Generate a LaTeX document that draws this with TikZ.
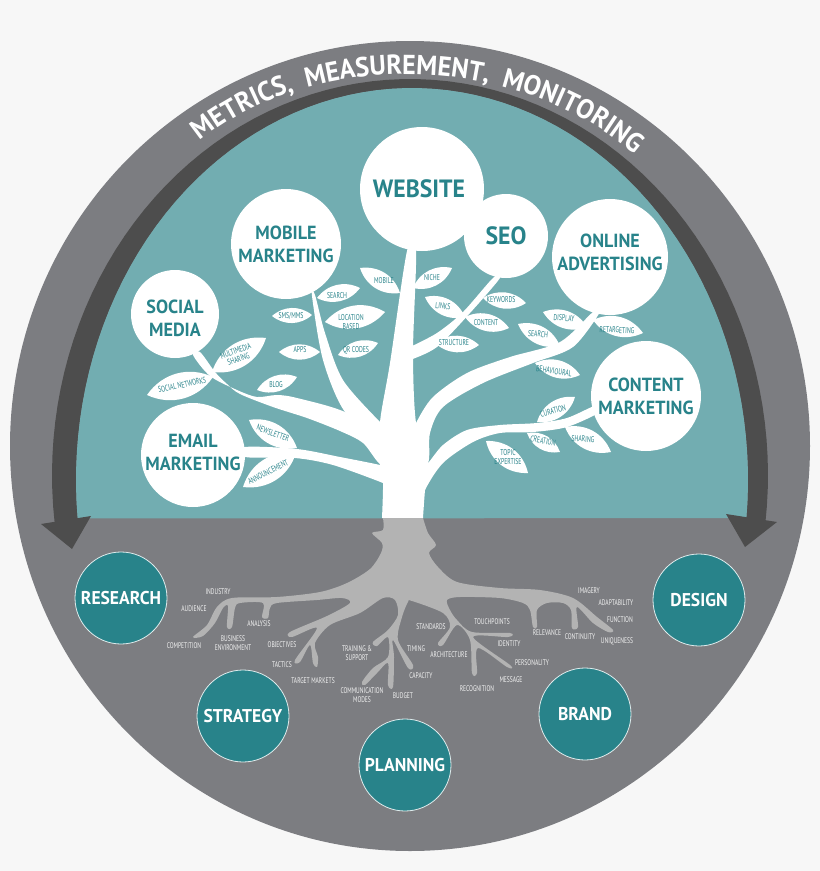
\documentclass[tikz,border=0pt]{standalone}
\usepackage{fontspec}
\usetikzlibrary{decorations.text,shadows}
\setmainfont{PT Sans}
\newfontfamily\headfont[FakeStretch=0.95]{PT Sans}
\newfontfamily\twigfont[FakeStretch=0.68]{PT Sans}
\definecolor{paper}{HTML}{F7F7F7}
\definecolor{ringgrey}{HTML}{7C7D81}
\definecolor{banddark}{HTML}{4D4D4D}
\definecolor{skyteal}{HTML}{72ADB1}
\definecolor{deepteal}{HTML}{28838A}
\definecolor{rootgrey}{HTML}{B3B3B3}
\definecolor{twigwhite}{HTML}{F2F2F2}

% leaf: name, tip, tip, text position, text angle, text
\newcommand{\leaf}[6]{
	\fill[white] (#2) to[bend left=40] (#3) to[bend left=40] (#2);
	\node[leaf text, rotate=#5] (#1) at (#4) {#6};
}

\begin{document}
\begin{tikzpicture}[x=1pt, y=-1pt, every node/.style={inner sep=0pt, align=center}]
	\tikzset{
		leaf text/.style={text=deepteal, font=\twigfont\fontsize{8.5}{8.5}\selectfont},
		root text/.style={text=twigwhite, font=\twigfont\fontsize{8.2}{9}\selectfont},
		top words/.style={text=deepteal, font=\headfont\bfseries\fontsize{19}{23}\selectfont},
		top circle/.style={circle, fill=white, top words},
		low circle/.style={circle, minimum size=92pt, fill=deepteal, draw=white!85!deepteal, line width=0.8pt, text=white,
			drop shadow={shadow xshift=0pt, shadow yshift=-1.5pt, opacity=.25},
			font=\headfont\bfseries\fontsize{18.5}{22}\selectfont}
	}
	\useasboundingbox (0,0) rectangle (820,871);
	\fill[paper] (0,0) rectangle (820,871);

	% Outer disc
	\fill[ringgrey] (410,446) ellipse [x radius=400pt, y radius=405pt];

	% Dark band around the teal half
	\fill[banddark] plot[domain=172.9:367.1, samples=80] ({410+358*cos(\x)},{475+396*sin(\x)})
		-- plot[domain=366.4:173.6, samples=80] ({412+336*cos(\x)},{480+392*sin(\x)}) -- cycle;

	% Teal half
	\fill[skyteal] plot[domain=174.4:365.6, samples=80] ({412+336*cos(\x)},{480+392*sin(\x)}) -- cycle;

	% Arrow heads
	\fill[banddark] (41,524) -- (91,516) -- (72,549) -- cycle;
	\fill[banddark] (726,514) -- (777,522) -- (745,547) -- cycle;

	% Ring text
	\path[decorate, decoration={text along path, text align={fit to path stretching spaces},
		text={|\headfont\bfseries\fontsize{27.5}{28}\selectfont\color{white}|METRICS, MEASUREMENT, MONITORING}}]
		(200,141) .. controls (312,50) and (512,50) .. (635,154);

	% Trunk
	\fill[white] plot[smooth, tension=.5] coordinates {(382,518) (383,483) (380,465) (380,422) (390,363) (407,251) (416,251) (413,352) (416,423) (428,463) (425,490) (423,518)} -- cycle;
	% Email branch
	\fill[white] plot[smooth, tension=.5] coordinates {(395,490) (383,483) (333,465) (295,458) (245,457) (245,447) (297,449) (340,457) (380,465) (395,470)} -- cycle;
	% Social branch
	\fill[white] plot[smooth, tension=.5] coordinates {(395,464) (380,464) (363,443) (340,431) (307,418) (273,407) (240,394) (227,384) (215,372) (200,352) (193,355) (210,376) (237,390) (257,397) (277,395) (297,398) (345,412) (390,440)} -- cycle;
	% Mobile branch
	\fill[white] plot[smooth, tension=.5] coordinates {(385,445) (345,412) (323,360) (312,296) (315,295) (325,333) (343,380) (380,422) (390,430)} -- cycle;
	% SEO branch
	\fill[white] plot[smooth, tension=.5] coordinates {(410,347) (437,333) (463,312) (493,278) (500,278) (470,313) (437,347) (410,360)} -- cycle;
	% Online branch
	\fill[white] plot[smooth, tension=.5] coordinates {(410,440) (416,423) (433,397) (467,373) (510,357) (560,342) (593,312) (600,312) (573,347) (533,363) (483,383) (443,407) (430,433) (428,463) (410,470)} -- cycle;
	% Content branch
	\fill[white] plot[smooth, tension=.5] coordinates {(410,480) (428,463) (443,445) (467,430) (500,425) (537,423) (567,418) (597,405) (600,412) (567,427) (533,432) (500,433) (473,442) (443,463) (425,490) (420,510)} -- cycle;

	% Leaves on the left
	\leaf{mobileleaf}{360,268}{400,293}{384,281}{0}{MOBILE}
	\leaf{searchleaf}{317,298}{360,288}{337,296}{0}{SEARCH}
	\leaf{smsleaf}{272,316}{312,315}{291,316}{0}{SMS/MMS}
	\leaf{locationleaf}{325,322}{385,312}{351,322}{0}{LOCATION\\BASED}
	\leaf{appsleaf}{279,352}{320,352}{300,350}{0}{APPS}
	\leaf{qrleaf}{338,355}{378,343}{356,350}{0}{QR CODES}
	\leaf{multimedialeaf}{212,372}{266,338}{237,355}{20}{MULTIMEDIA\\SHARING}
	\leaf{networksleaf}{147,395}{213,377}{182,385}{12}{SOCIAL NETWORKS}
	\leaf{blogleaf}{257,390}{297,377}{276,385}{0}{BLOG}
	\leaf{newsletterleaf}{249,420}{297,448}{273,433}{-20}{NEWSLETTER}
	\leaf{announceleaf}{243,487}{296,453}{268,472}{27}{ANNOUNCEMENT}

	% Leaves on the right
	\leaf{nicheleaf}{413,288}{452,268}{432,278}{0}{NICHE}
	\leaf{linksleaf}{425,297}{465,317}{443,306}{-5}{LINKS}
	\leaf{keywordsleaf}{483,298}{526,303}{501,300}{0}{KEYWORDS}
	\leaf{contentleaf}{465,317}{509,328}{486,323}{0}{CONTENT}
	\leaf{structureleaf}{435,343}{479,345}{454,343}{0}{STRUCTURE}
	\leaf{displayleaf}{543,312}{587,327}{564,318}{-3}{DISPLAY}
	\leaf{adsearchleaf}{518,324}{560,346}{538,334}{-5}{SEARCH}
	\leaf{retargetingleaf}{593,320}{643,333}{617,330}{-3}{RETARGETING}
	\leaf{behaviouralleaf}{535,363}{580,375}{554,371}{-8}{BEHAVIOURAL}
	\leaf{curationleaf}{537,422}{575,397}{553,411}{15}{CURATION}
	\leaf{creationleaf}{527,433}{560,452}{543,441}{-12}{CREATION}
	\leaf{sharingleaf}{565,427}{611,452}{583,439}{-3}{SHARING}
	\leaf{topicleaf}{486,441}{528,473}{508,457}{0}{TOPIC\\EXPERTISE}

	% Roots
	\fill[rootgrey] plot[smooth, tension=.5] coordinates {(383,518) (383,530) (372,533) (382,543) (381,553) (370,569) (347,583) (320,592) (277,597) (232,598) (217,607) (207,625) (193,637) (203,636) (215,623) (223,608) (228,606) (227,627) (232,627) (235,608) (240,603) (263,603) (262,617) (268,618) (270,608) (277,603) (317,600) (342,598) (350,603) (327,616) (290,632) (292,637) (317,628) (295,660) (300,662) (310,645) (313,663) (317,667) (318,657) (315,643) (330,625) (360,613) (383,598) (395,600) (398,615) (388,630) (373,642) (377,646) (388,637) (388,657) (373,668) (362,682) (365,685) (377,673) (388,663) (388,685) (393,687) (394,657) (393,640) (408,668) (413,665) (398,640) (402,617) (408,602) (412,601) (443,613) (450,627) (438,643) (443,645) (457,625) (470,640) (472,673) (477,673) (478,648) (507,667) (510,665) (473,637) (508,637) (510,633) (472,632) (457,620) (450,610) (447,600) (460,597) (500,598) (523,603) (530,610) (533,627) (537,627) (537,610) (547,603) (563,603) (571,610) (572,628) (578,627) (577,607) (593,623) (608,632) (613,630) (597,617) (573,598) (540,590) (500,588) (457,582) (438,567) (429,553) (436,545) (428,533) (423,518)} -- cycle;

	% Root labels
	\node[root text] (industry) at (218,592) {INDUSTRY};
	\node[root text] (audience) at (194,609) {AUDIENCE};
	\node[root text] (analysis) at (259,624) {ANALYSIS};
	\node[root text] (competition) at (184,646) {COMPETITION};
	\node[root text] (business) at (233,643) {BUSINESS\\ENVIRONMENT};
	\node[root text] (objectives) at (282,645) {OBJECTIVES};
	\node[root text] (tactics) at (282,665) {TACTICS};
	\node[root text] (target) at (313,681) {TARGET MARKETS};
	\node[root text] (training) at (357,653) {TRAINING \&\\SUPPORT};
	\node[root text] (communication) at (362,695) {COMMUNICATION\\MODES};
	\node[root text] (budget) at (403,696) {BUDGET};
	\node[root text] (standards) at (431,627) {STANDARDS};
	\node[root text] (timing) at (416,649) {TIMING};
	\node[root text] (architecture) at (449,655) {ARCHITECTURE};
	\node[root text] (capacity) at (421,676) {CAPACITY};
	\node[root text] (touchpoints) at (492,622) {TOUCHPOINTS};
	\node[root text] (identity) at (509,644) {IDENTITY};
	\node[root text] (personality) at (532,663) {PERSONALITY};
	\node[root text] (message) at (511,680) {MESSAGE};
	\node[root text] (recognition) at (477,689) {RECOGNITION};
	\node[root text] (relevance) at (547,633) {RELEVANCE};
	\node[root text] (continuity) at (580,637) {CONTINUITY};
	\node[root text] (uniqueness) at (617,641) {UNIQUENESS};
	\node[root text] (function) at (620,620) {FUNCTION};
	\node[root text] (adaptability) at (616,603) {ADAPTABILITY};
	\node[root text] (imagery) at (589,591) {IMAGERY};

	% Circles in the tree
	\node[top circle, minimum size=124pt, font=\headfont\bfseries\fontsize{25}{25}\selectfont, label={[text=deepteal, font=\headfont\bfseries\fontsize{25}{25}\selectfont, xshift=-3pt]center:WEBSITE}] (website) at (422,189) {};
	\node[top circle, minimum size=84pt, font=\headfont\bfseries\fontsize{25}{25}\selectfont] (seo) at (506,236) {SEO};
	\node[top circle, minimum size=116pt, label={[top words, yshift=5pt]center:ONLINE\\ADVERTISING}] (online) at (610,257) {};
	\node[top circle, minimum size=110pt] (content) at (646,396) {CONTENT\\MARKETING};
	\node[top circle, minimum size=110pt] (mobile) at (286,244) {MOBILE\\MARKETING};
	\node[top circle, minimum size=88pt, label={[top words, yshift=-4pt]center:SOCIAL\\MEDIA}] (social) at (175,314) {};
	\node[top circle, minimum size=104pt, label={[top words, yshift=3pt]center:EMAIL\\MARKETING}] (email) at (193,455) {};

	% Circles below the ground
	\node[low circle] (research) at (121,598) {RESEARCH};
	\node[low circle] (strategy) at (243,716) {STRATEGY};
	\node[low circle] (planning) at (405,765) {PLANNING};
	\node[low circle] (brand) at (585,714) {BRAND};
	\node[low circle] (design) at (699,600) {DESIGN};
\end{tikzpicture}
\end{document}
